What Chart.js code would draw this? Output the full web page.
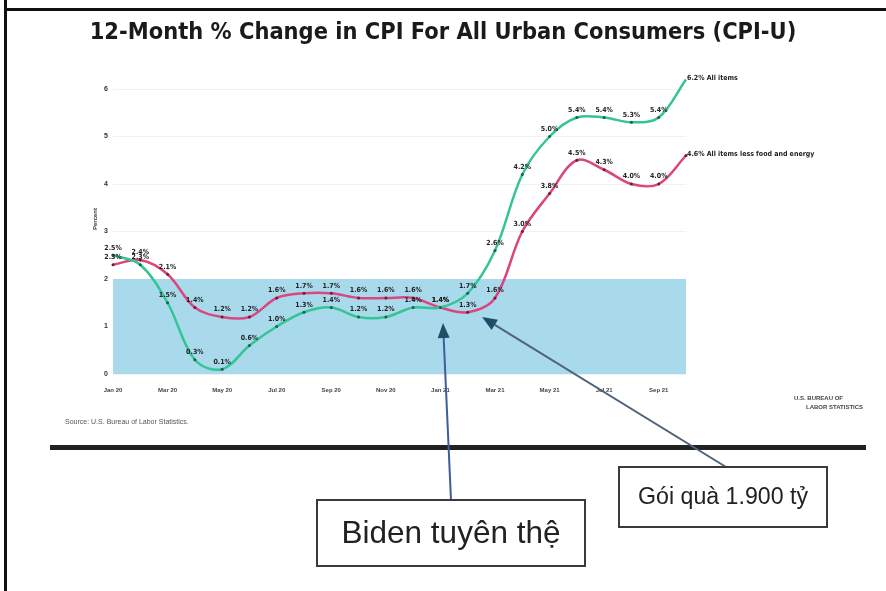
<!DOCTYPE html>
<html>
<head>
<meta charset="utf-8">
<script src="https://cdn.jsdelivr.net/npm/chart.js@4.4.1/dist/chart.umd.min.js"></script>
<style>
  html, body { margin: 0; padding: 0; background: #fff; }
</style>
</head>
<body>
<canvas id="cpiChart" width="886" height="591"></canvas>
<script>
const months = ['Jan 20', 'Feb 20', 'Mar 20', 'Apr 20', 'May 20', 'Jun 20', 'Jul 20', 'Aug 20', 'Sep 20', 'Oct 20', 'Nov 20', 'Dec 20',
                'Jan 21', 'Feb 21', 'Mar 21', 'Apr 21', 'May 21', 'Jun 21', 'Jul 21', 'Aug 21', 'Sep 21', 'Oct 21'];
const allItems = [2.5, 2.3, 1.5, 0.3, 0.1, 0.6, 1.0, 1.3, 1.4, 1.2, 1.2, 1.4, 1.4, 1.7, 2.6, 4.2, 5.0, 5.4, 5.4, 5.3, 5.4, 6.2];
const coreItems = [2.3, 2.4, 2.1, 1.4, 1.2, 1.2, 1.6, 1.7, 1.7, 1.6, 1.6, 1.6, 1.4, 1.3, 1.6, 3.0, 3.8, 4.5, 4.3, 4.0, 4.0, 4.6];
const seriesNames = ['All items', 'All items less food and energy'];
const targetBand = [0, 2];

const title = '12-Month % Change in CPI For All Urban Consumers (CPI-U)';
const sourceNote = 'Source: U.S. Bureau of Labor Statistics.';
const bidenNote = 'Biden tuyên thệ';
const giftNote = 'Gói quà 1.900 tỷ';

// draw text squeezed/stretched to a given width by picking the font size
function fitText(ctx, text, cx, cy, width, weight, family) {
    ctx.font = weight + ' 20px ' + family;
    const size = 20 * width / ctx.measureText(text).width;
    ctx.font = weight + ' ' + size.toFixed(2) + 'px ' + family;
    ctx.textAlign = 'center';
    ctx.textBaseline = 'middle';
    ctx.fillText(text, cx, cy);
}

function arrow(ctx, x1, y1, x2, y2, lineColor, headColor) {
    const ang = Math.atan2(y2 - y1, x2 - x1);
    const len = 15, half = 6;
    ctx.strokeStyle = lineColor;
    ctx.lineWidth = 2;
    ctx.beginPath();
    ctx.moveTo(x1, y1);
    ctx.lineTo(x2 - Math.cos(ang) * len, y2 - Math.sin(ang) * len);
    ctx.stroke();
    ctx.fillStyle = headColor;
    ctx.beginPath();
    ctx.moveTo(x2, y2);
    ctx.lineTo(x2 - Math.cos(ang) * len - Math.sin(ang) * half, y2 - Math.sin(ang) * len + Math.cos(ang) * half);
    ctx.lineTo(x2 - Math.cos(ang) * len + Math.sin(ang) * half, y2 - Math.sin(ang) * len - Math.cos(ang) * half);
    ctx.closePath();
    ctx.fill();
}

function noteBox(ctx, text, x, y, w, h, textWidth) {
    ctx.fillStyle = '#fff';
    ctx.fillRect(x, y, w, h);
    ctx.strokeStyle = '#3a3a3a';
    ctx.lineWidth = 2;
    ctx.strokeRect(x, y, w, h);
    ctx.fillStyle = '#222';
    fitText(ctx, text, x + w / 2, y + h / 2 + 1, textWidth, 'normal', '"Liberation Sans", Arial, sans-serif');
}

const overlay = {
    id: 'overlay',
    beforeDatasetsDraw(chart) {
        const { ctx, chartArea, scales } = chart;
        const top = scales.y.getPixelForValue(targetBand[1]);
        const bottom = scales.y.getPixelForValue(targetBand[0]);
        ctx.save();
        ctx.fillStyle = '#a9daec';
        ctx.fillRect(chartArea.left, top, chartArea.right - chartArea.left, bottom - top);
        ctx.restore();
    },
    afterDatasetsDraw(chart) {
        const { ctx } = chart;
        ctx.save();
        ctx.fillStyle = '#222';
        ctx.font = 'bold 7px "DejaVu Sans Condensed", "Liberation Sans", sans-serif';
        ctx.textBaseline = 'bottom';
        chart.data.datasets.forEach((ds, di) => {
            const meta = chart.getDatasetMeta(di);
            meta.data.forEach((pt, i) => {
                const txt = ds.data[i].toFixed(1) + '%';
                if (i === ds.data.length - 1) {
                    ctx.textAlign = 'left';
                    ctx.textBaseline = 'middle';
                    ctx.fillText(txt + ' ' + seriesNames[di], pt.x + 1, pt.y - 1);
                    ctx.textBaseline = 'bottom';
                } else {
                    ctx.textAlign = 'center';
                    ctx.fillText(txt, pt.x, pt.y - 4);
                }
            });
        });
        ctx.restore();
    },
    afterDraw(chart) {
        const { ctx } = chart;
        ctx.save();

        // frame of the scanned page
        ctx.fillStyle = '#111';
        ctx.fillRect(4, 0, 3, 591);
        ctx.fillRect(4, 8, 882, 3);

        ctx.fillStyle = '#1a1a1a';
        fitText(ctx, title, 443, 33, 707, 'bold', '"DejaVu Sans Condensed", "Liberation Sans Narrow", sans-serif');

        // y axis title
        ctx.save();
        ctx.translate(95, 219);
        ctx.rotate(-Math.PI / 2);
        ctx.fillStyle = '#333';
        ctx.font = 'bold 6px "Liberation Sans", sans-serif';
        ctx.textAlign = 'center';
        ctx.textBaseline = 'middle';
        ctx.fillText('Percent', 0, 0);
        ctx.restore();

        ctx.fillStyle = '#555';
        ctx.font = '7px "Liberation Sans", sans-serif';
        ctx.textAlign = 'left';
        ctx.textBaseline = 'middle';
        ctx.fillText(sourceNote, 65, 422);

        ctx.fillStyle = '#444';
        ctx.font = 'bold 6px "Liberation Sans", sans-serif';
        ctx.fillText('U.S. BUREAU OF', 794, 398);
        ctx.fillText('LABOR STATISTICS', 806, 407);

        ctx.fillStyle = '#222';
        ctx.fillRect(50, 445, 816, 5);

        arrow(ctx, 451, 500, 443, 323, '#3f5d9c', '#1d4e66');
        arrow(ctx, 726, 467, 482, 317, '#4f6279', '#1d4e66');

        noteBox(ctx, bidenNote, 317, 500, 268, 66, 219);
        noteBox(ctx, giftNote, 619, 467, 208, 60, 170);

        ctx.restore();
    }
};

new Chart(document.getElementById('cpiChart'), {
    type: 'line',
    data: {
        labels: months,
        datasets: [{
            label: seriesNames[0],
            data: allItems,
            borderColor: '#34c495',
            backgroundColor: '#1f5f4c',
            borderWidth: 2.5,
            pointRadius: 1.5,
            pointBorderWidth: 0,
            tension: 0.35,
            clip: false
        }, {
            label: seriesNames[1],
            data: coreItems,
            borderColor: '#dc4680',
            backgroundColor: '#6a1f3a',
            borderWidth: 2.5,
            pointRadius: 1.5,
            pointBorderWidth: 0,
            tension: 0.35,
            clip: false
        }]
    },
    options: {
        responsive: false,
        animation: false,
        layout: { padding: { left: 0, right: 200, top: 89, bottom: 197 } },
        scales: {
            x: {
                afterFit(scale) { scale.height = 20; },
                grid: { display: false },
                border: { display: false },
                ticks: {
                    autoSkip: false,
                    maxRotation: 0,
                    padding: 5,
                    color: '#444',
                    font: { size: 6, weight: 'bold', family: '"Liberation Sans", sans-serif' },
                    callback(v, i) { return i % 2 === 0 ? months[i] : ''; }
                }
            },
            y: {
                min: 0,
                max: 6,
                afterFit(scale) { scale.width = 113; },
                grid: { color: '#f1f1f1', drawTicks: false },
                border: { display: false },
                ticks: {
                    stepSize: 1,
                    padding: 5,
                    color: '#333',
                    font: { size: 7, weight: 'bold', family: '"Liberation Sans", sans-serif' }
                }
            }
        },
        plugins: {
            legend: { display: false },
            tooltip: { enabled: false }
        }
    },
    plugins: [overlay]
});
</script>
</body>
</html>
